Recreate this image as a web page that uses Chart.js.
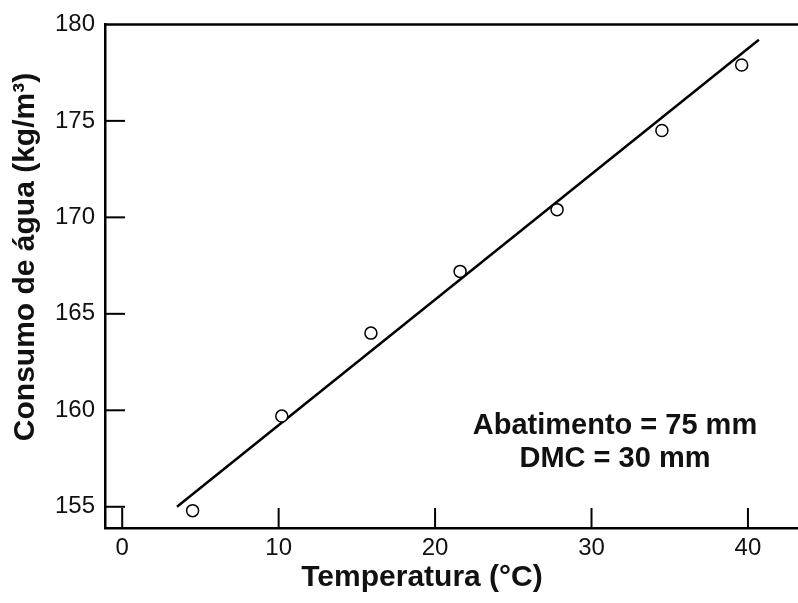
<!DOCTYPE html>
<html>
<head>
<meta charset="utf-8">
<script src="https://cdn.jsdelivr.net/npm/chart.js@4/dist/chart.umd.min.js"></script>
<style>
  html, body { margin: 0; padding: 0; background: #fff; }
  #wrap { width: 798px; height: 603px; position: relative; }
</style>
</head>
<body>
<div id="wrap"><canvas id="grafico"></canvas></div>
<script>
// dados
const temperatura = [4.5, 10.2, 15.9, 21.6, 27.8, 34.5, 39.6];
const consumo     = [154.8, 159.7, 164.0, 167.2, 170.4, 174.5, 177.9];

// reta de ajuste (extremos)
const retaX = [3.5, 40.7];
const retaY = [155.0, 179.2];

const xTicks = [0, 10, 20, 30, 40];
const yTicks = [155, 160, 165, 170, 175, 180];

const tituloX = 'Temperatura (°C)';
const tituloY = 'Consumo de água (kg/m³)';
const notas = ['Abatimento = 75 mm', 'DMC = 30 mm'];

const FONTE = '"Liberation Sans", Arial, Helvetica, sans-serif';

// ─── eixos com marcas para dentro, linha superior, títulos e nota ───
const extras = {
  id: 'extras',
  afterDraw(c) {
    const ctx = c.ctx;
    const { left, right, top, bottom } = c.chartArea;
    const sx = c.scales.x, sy = c.scales.y;
    ctx.save();
    ctx.strokeStyle = '#000';
    ctx.lineWidth = 2.5;
    // linha superior
    ctx.beginPath();
    ctx.moveTo(left, top);
    ctx.lineTo(right, top);
    ctx.stroke();
    // marcas
    ctx.lineWidth = 2;
    xTicks.forEach(v => {
      const px = sx.getPixelForValue(v);
      ctx.beginPath();
      ctx.moveTo(px, bottom);
      ctx.lineTo(px, bottom - 20);
      ctx.stroke();
    });
    yTicks.forEach(v => {
      if (v >= sy.max) return;
      const py = sy.getPixelForValue(v);
      ctx.beginPath();
      ctx.moveTo(left, py);
      ctx.lineTo(left + 20, py);
      ctx.stroke();
    });
    ctx.restore();

    // títulos dos eixos
    ctx.save();
    ctx.fillStyle = '#111';
    ctx.font = 'bold 30px ' + FONTE;
    ctx.textAlign = 'center';
    ctx.textBaseline = 'middle';
    ctx.fillText(tituloX, 422, 578);
    ctx.translate(26, 257);
    ctx.rotate(-Math.PI / 2);
    ctx.fillText(tituloY, 0, 0);
    ctx.restore();

    // nota
    ctx.save();
    ctx.fillStyle = '#111';
    ctx.font = 'bold 29px ' + FONTE;
    ctx.textAlign = 'center';
    ctx.textBaseline = 'middle';
    const nx = sx.getPixelForValue(31.5);
    ctx.fillText(notas[0], nx, sy.getPixelForValue(159.2));
    ctx.fillText(notas[1], nx, sy.getPixelForValue(157.5));
    ctx.restore();
  }
};

new Chart(document.getElementById('grafico'), {
  type: 'scatter',
  data: {
    datasets: [
      {
        label: 'reta',
        type: 'line',
        data: retaX.map((x, i) => ({ x, y: retaY[i] })),
        borderColor: '#000',
        borderWidth: 2.5,
        pointRadius: 0,
        fill: false,
        order: 2
      },
      {
        label: 'medidos',
        data: temperatura.map((x, i) => ({ x, y: consumo[i] })),
        pointRadius: 6,
        pointBorderWidth: 1.5,
        pointBorderColor: '#000',
        pointBackgroundColor: '#fff',
        order: 1
      }
    ]
  },
  options: {
    responsive: true,
    maintainAspectRatio: false,
    animation: false,
    layout: { autoPadding: false, padding: { top: 23, right: 0, left: 0, bottom: 0 } },
    plugins: {
      legend: { display: false },
      tooltip: { enabled: false }
    },
    scales: {
      x: {
        type: 'linear',
        min: -1.1,
        max: 43.2,
        afterBuildTicks: s => { s.ticks = xTicks.map(v => ({ value: v })); },
        afterFit: s => { s.height = 75; },
        grid: { display: false, drawTicks: false },
        border: { display: true, color: '#000', width: 2.5 },
        ticks: {
          color: '#111',
          padding: 6,
          font: { family: FONTE, size: 24 }
        }
      },
      y: {
        type: 'linear',
        min: 153.9,
        max: 180,
        afterBuildTicks: s => { s.ticks = yTicks.map(v => ({ value: v })); },
        afterFit: s => { s.width = 105; },
        grid: { display: false, drawTicks: false },
        border: { display: true, color: '#000', width: 2.5 },
        ticks: {
          color: '#111',
          padding: 10,
          font: { family: FONTE, size: 24 }
        }
      }
    }
  },
  plugins: [extras]
});
</script>
</body>
</html>
